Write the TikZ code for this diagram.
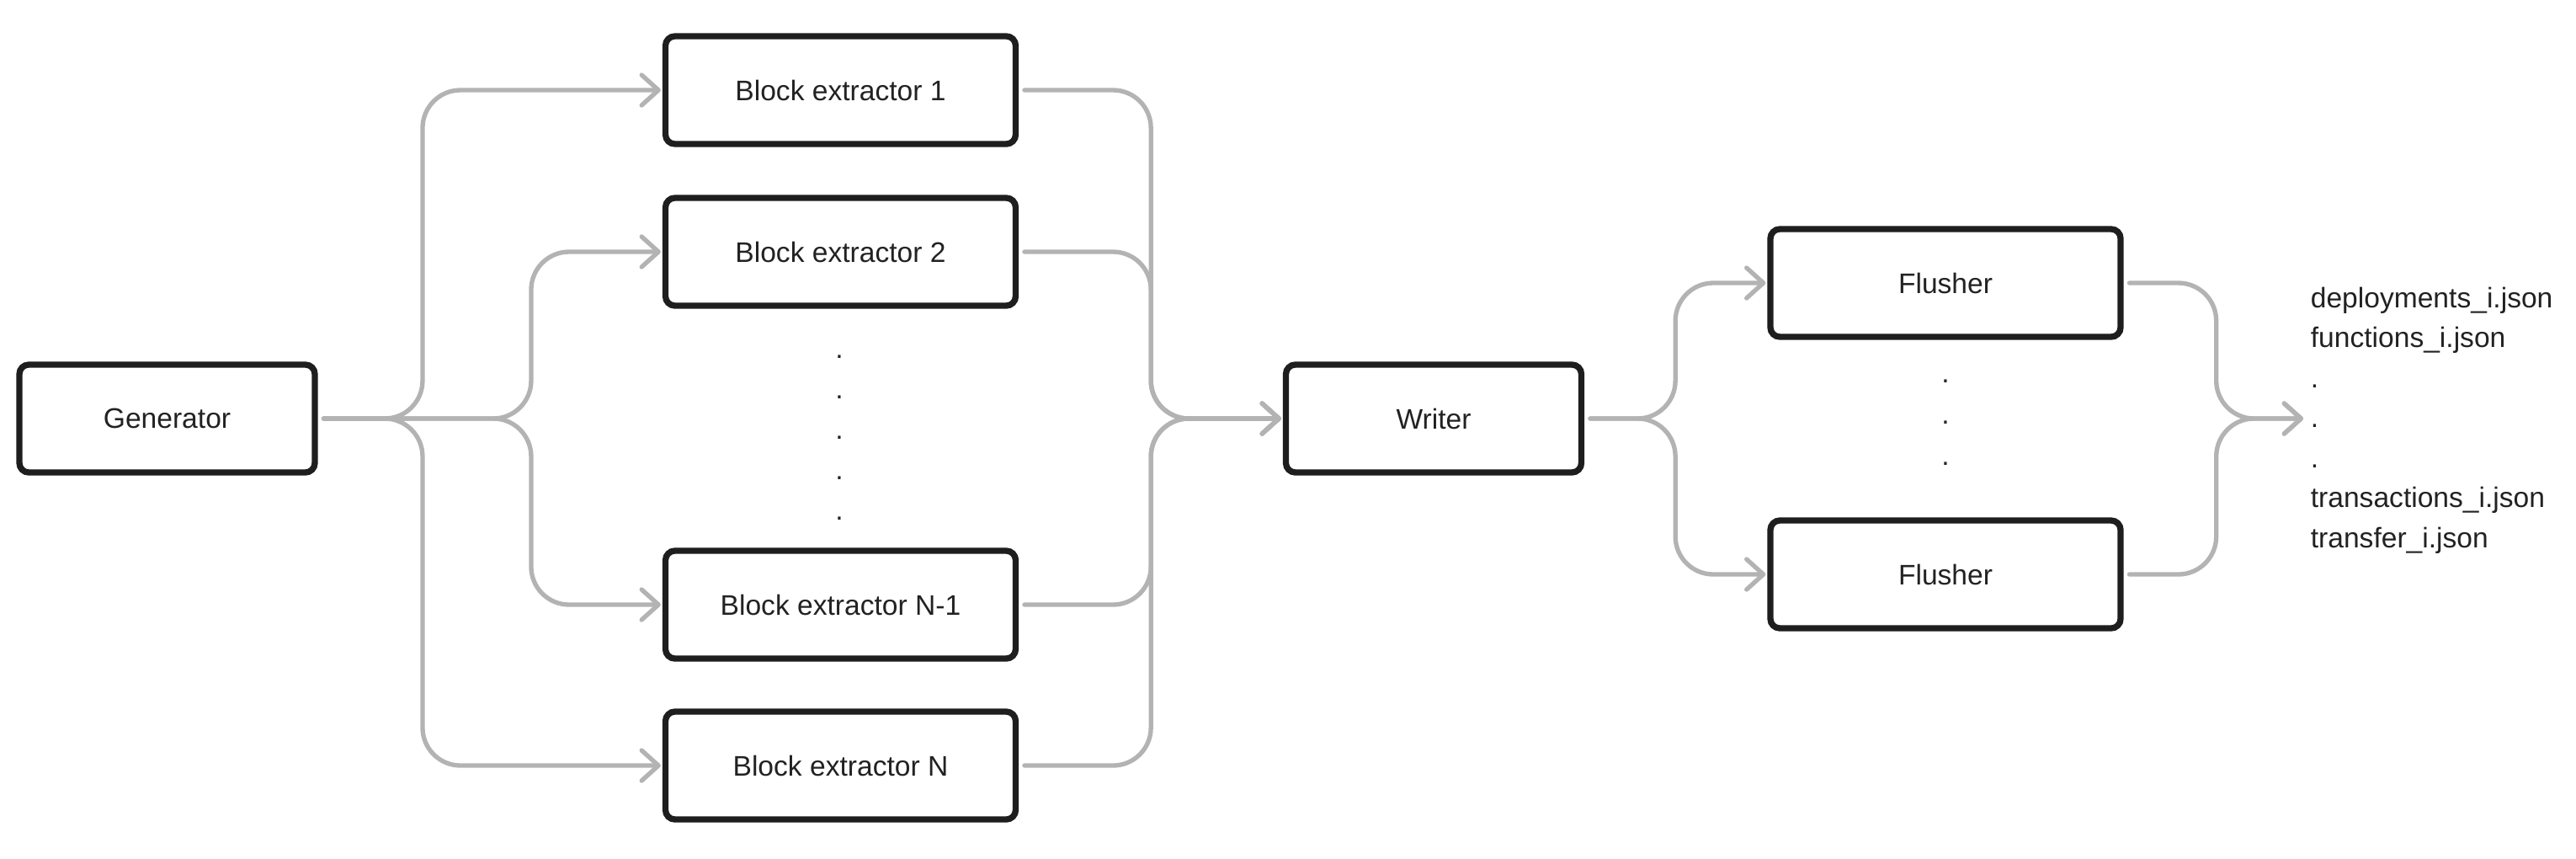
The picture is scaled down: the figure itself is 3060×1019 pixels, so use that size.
\documentclass[tikz,border=0pt]{standalone}
\usepackage{fontspec}
\setmainfont{Liberation Sans}
\usetikzlibrary{arrows.meta}
\definecolor{boxline}{HTML}{1E1E1E}
\definecolor{connline}{HTML}{B3B3B3}
\definecolor{txt}{HTML}{222222}
\begin{document}
\begin{tikzpicture}[x=0.25pt, y=-0.25pt,
  blk/.style={draw=boxline, line width=1.83pt, rounded corners=2.8pt, fill=white,
    minimum width=104pt, minimum height=32pt, inner sep=0pt, text=txt,
    font=\fontsize{8.4}{10}\selectfont},
  wide/.style={blk, minimum width=87.75pt},
  conn/.style={draw=connline, line width=1.33pt, line cap=round, rounded corners=11.25pt},
  arr/.style={conn, -{Straight Barb[length=5pt,width=9pt,round]}, shorten >=0.5pt, shorten <=1.7pt},
  lbl/.style={text=txt, font=\fontsize{8.4}{10}\selectfont, inner sep=0pt, anchor=base west},
  dotlbl/.style={text=txt, font=\fontsize{8.4}{10}\selectfont, inner sep=0pt, anchor=base}
]
\path[use as bounding box] (0,0) rectangle (3060,1019);

% boxes
\node[wide] (gen) at (198.5,497) {Generator};
\node[blk] (be1) at (998.5,107) {Block extractor 1};
\node[blk] (be2) at (998.5,299) {Block extractor 2};
\node[blk] (ben1) at (998.5,718) {Block extractor N-1};
\node[blk] (ben) at (998.5,909) {Block extractor N};
\node[wide] (wr) at (1703,497) {Writer};
\node[blk] (fl1) at (2311,336) {Flusher};
\node[blk] (fl2) at (2311,682) {Flusher};

% dots between block extractors
\node[dotlbl] (bd1) at (997,425) {.};
\node[dotlbl] (bd2) at (997,473) {.};
\node[dotlbl] (bd3) at (997,521) {.};
\node[dotlbl] (bd4) at (997,569) {.};
\node[dotlbl] (bd5) at (997,617) {.};

% dots between flushers
\node[dotlbl] (fd1) at (2311,454) {.};
\node[dotlbl] (fd2) at (2311,503) {.};
\node[dotlbl] (fd3) at (2311,552) {.};

% output files
\node[lbl] (o1) at (2744,365) {deployments\_i.json};
\node[lbl] (o2) at (2744,412.5) {functions\_i.json};
\node[lbl] (o3) at (2744,460) {.};
\node[lbl] (o4) at (2744,507.5) {.};
\node[lbl] (o5) at (2744,555) {.};
\node[lbl] (o6) at (2744,602.5) {transactions\_i.json};
\node[lbl] (o7) at (2744,650) {transfer\_i.json};
\coordinate (out) at (2738,497);

% generator -> block extractors
\draw[arr] (gen.east) -- ++(124.3,0) |- (be1.west);
\draw[arr] (gen.east) -- ++(253.3,0) |- (be2.west);
\draw[arr] (gen.east) -- ++(253.3,0) |- (ben1.west);
\draw[arr] (gen.east) -- ++(124.3,0) |- (ben.west);

% block extractors -> writer
\draw[arr] (be1.east) -- ++(157,0) |- (wr.west);
\draw[arr] (be2.east) -- ++(157,0) |- (wr.west);
\draw[arr] (ben1.east) -- ++(157,0) |- (wr.west);
\draw[arr] (ben.east) -- ++(157,0) |- (wr.west);

% writer -> flushers
\draw[arr] (wr.east) -- ++(108,0) |- (fl1.west);
\draw[arr] (wr.east) -- ++(108,0) |- (fl2.west);

% flushers -> files
\draw[arr] (fl1.east) -- ++(110,0) |- (out);
\draw[arr] (fl2.east) -- ++(110,0) |- (out);
\end{tikzpicture}
\end{document}
